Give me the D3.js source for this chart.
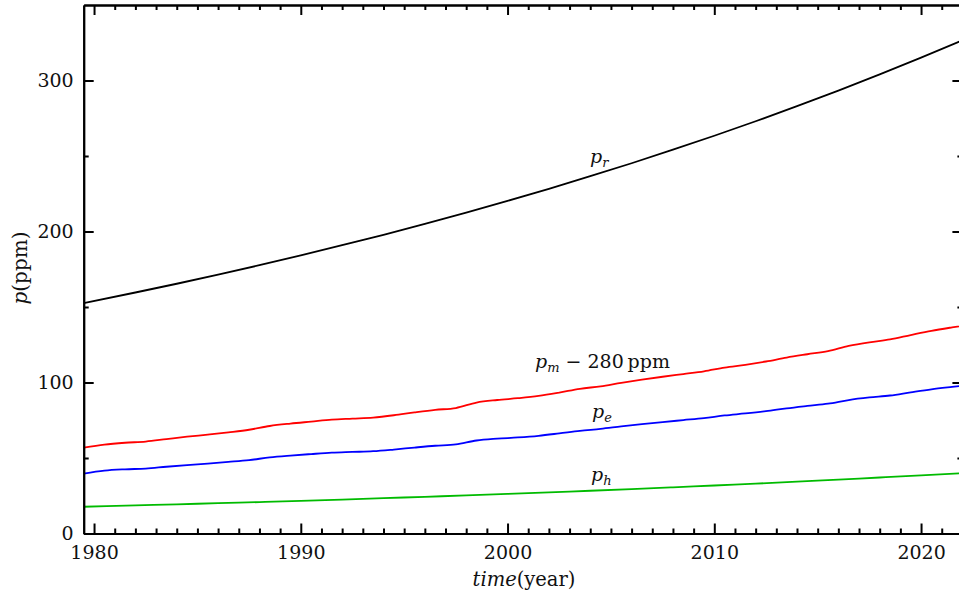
<!DOCTYPE html>
<html>
<head>
<meta charset="utf-8">
<script src="https://cdn.jsdelivr.net/npm/d3@7"></script>
<style>
  body { margin: 0; background: #fff; }
  svg { display: block; overflow: hidden; }
  svg text { font-family: "DejaVu Serif", serif !important; fill: #111; }
</style>
</head>
<body>
<script>
// values (ppm)
var yearsM = [1979.5, 1980.5, 1981.5, 1982.5, 1983.5, 1984.5, 1985.5, 1986.5, 1987.5, 1988.5,
              1989.5, 1990.5, 1991.5, 1992.5, 1993.5, 1994.5, 1995.5, 1996.5, 1997.5, 1998.5,
              1999.5, 2000.5, 2001.5, 2002.5, 2003.5, 2004.5, 2005.5, 2006.5, 2007.5, 2008.5,
              2009.5, 2010.5, 2011.5, 2012.5, 2013.5, 2014.5, 2015.5, 2016.5, 2017.5, 2018.5,
              2019.5, 2020.5, 2021.5, 2022.5];
var pm = [56.9, 58.9, 60.1, 60.9, 62.5, 64.1, 65.5, 67.0, 68.7, 71.2,
          72.8, 74.1, 75.4, 76.1, 76.8, 78.3, 80.2, 81.9, 83.1, 86.7,
          88.4, 89.6, 91.1, 93.3, 95.8, 97.5, 99.8, 101.9, 103.8, 105.6,
          107.4, 109.9, 111.7, 113.9, 116.5, 118.7, 120.8, 124.2, 126.6, 128.5,
          131.4, 134.2, 136.5, 138.6];
var pe = [39.6, 41.6, 42.5, 43.0, 44.2, 45.3, 46.3, 47.4, 48.6, 50.4,
          51.6, 52.6, 53.5, 54.0, 54.5, 55.6, 56.9, 58.1, 59.0, 61.6,
          62.8, 63.6, 64.7, 66.3, 68.0, 69.3, 70.9, 72.4, 73.8, 75.1,
          76.4, 78.2, 79.5, 81.0, 82.9, 84.5, 86.0, 88.4, 90.1, 91.4,
          93.5, 95.5, 97.1, 98.6];

var yearsS = [1979.5, 1982, 1984, 1986, 1988, 1990, 1992, 1994, 1996, 1998, 2000,
              2002, 2004, 2006, 2008, 2010, 2012, 2014, 2016, 2018, 2020, 2022];
var pr = [152.6, 159.6, 165.4, 171.4, 177.7, 184.2, 190.9, 197.8, 205.0, 212.5, 220.3,
          228.3, 236.6, 245.2, 254.2, 263.4, 273.0, 283.0, 293.3, 304.0, 315.1, 326.6];
var ph = [17.7, 18.6, 19.3, 20.1, 20.8, 21.6, 22.5, 23.4, 24.3, 25.2, 26.2,
          27.3, 28.3, 29.4, 30.6, 31.8, 33.0, 34.3, 35.7, 37.1, 38.5, 40.0];

var xTicks = [1980, 1990, 2000, 2010, 2020];
var yTicks = [0, 100, 200, 300];

var margin = {top: 5, right: 0, bottom: 65.5, left: 83.7},
    w = 878.7,
    h = 528.5;

var xScale = d3.scaleLinear().domain([1979.5, 2022]).range([0, w]);
var yScale = d3.scaleLinear().domain([0, 350]).range([h, 0]);

var xMinor = d3.range(1980, 2023).filter(function (d) { return d % 10 != 0; });
var yMinor = [50, 150, 250];

var svg = d3.select('body').append('svg')
    .attr('width', 959)
    .attr('height', 599)
  .append('g')
    .attr('transform', 'translate(' + margin.left + ',' + margin.top + ')');

svg.append('clipPath').attr('id', 'clip')
  .append('rect').attr('width', w).attr('height', h);

// curves
var curves = [
  {x: yearsS, y: pr, color: '#000000'},
  {x: yearsM, y: pm, color: '#ff0000'},
  {x: yearsM, y: pe, color: '#0000ff'},
  {x: yearsS, y: ph, color: '#00bb00'}
];

var line = d3.line()
    .x(function (d) { return xScale(d[0]); })
    .y(function (d) { return yScale(d[1]); })
    .curve(d3.curveMonotoneX);

svg.append('g').attr('clip-path', 'url(#clip)')
  .selectAll('path')
  .data(curves)
  .enter()
  .append('path')
  .attr('d', function (c) { return line(d3.zip(c.x, c.y)); })
  .attr('fill', 'none')
  .attr('stroke', function (c) { return c.color; })
  .attr('stroke-width', 1.8);

// axes: ticks point inward
function styleAxis(g) {
  g.attr('font-family', null);
  g.selectAll('path').attr('stroke', '#000').attr('stroke-width', 2);
  g.selectAll('line').attr('stroke', '#000').attr('stroke-width', 2);
  g.selectAll('text').attr('font-size', '19px').attr('fill', '#111');
}

svg.append('g')
  .attr('transform', 'translate(0,' + h + ')')
  .call(d3.axisBottom(xScale).tickValues(xTicks).tickFormat(d3.format('d'))
    .tickSizeInner(-10).tickSizeOuter(0).tickPadding(12))
  .call(styleAxis);
svg.append('g')
  .attr('transform', 'translate(0,' + h + ')')
  .call(d3.axisBottom(xScale).tickValues(xMinor).tickFormat('')
    .tickSizeInner(-5).tickSizeOuter(0))
  .call(styleAxis);

svg.append('g')
  .call(d3.axisTop(xScale).tickValues(xTicks).tickFormat('')
    .tickSizeInner(-10).tickSizeOuter(0))
  .call(styleAxis);
svg.append('g')
  .call(d3.axisTop(xScale).tickValues(xMinor).tickFormat('')
    .tickSizeInner(-5).tickSizeOuter(0))
  .call(styleAxis);

svg.append('g')
  .call(d3.axisLeft(yScale).tickValues(yTicks)
    .tickSizeInner(-10).tickSizeOuter(0).tickPadding(10))
  .call(styleAxis);
svg.append('g')
  .call(d3.axisLeft(yScale).tickValues(yMinor).tickFormat('')
    .tickSizeInner(-5).tickSizeOuter(0))
  .call(styleAxis);

svg.append('g')
  .attr('transform', 'translate(' + w + ',0)')
  .call(d3.axisRight(yScale).tickValues(yTicks).tickFormat('')
    .tickSizeInner(-10).tickSizeOuter(0))
  .call(styleAxis);
svg.append('g')
  .attr('transform', 'translate(' + w + ',0)')
  .call(d3.axisRight(yScale).tickValues(yMinor).tickFormat('')
    .tickSizeInner(-5).tickSizeOuter(0))
  .call(styleAxis);

// axis titles
var xt = svg.append('text')
  .attr('x', 524 - margin.left)
  .attr('y', 586 - margin.top)
  .attr('text-anchor', 'middle')
  .attr('font-size', '19.5px');
xt.append('tspan').attr('font-style', 'italic').text('time');
xt.append('tspan').text('(year)');

var yt = svg.append('text')
  .attr('transform', 'translate(' + (27 - margin.left) + ',' + (268 - margin.top) + ') rotate(-90)')
  .attr('text-anchor', 'middle')
  .attr('font-size', '20px');
yt.append('tspan').attr('font-style', 'italic').text('p');
yt.append('tspan').text('(ppm)');

// curve labels
function mathLabel(x, y, sub, rest) {
  var t = svg.append('text')
    .attr('x', x - margin.left)
    .attr('y', y - margin.top)
    .attr('font-size', '19px');
  t.append('tspan').attr('font-style', 'italic').text('p');
  t.append('tspan').attr('font-style', 'italic').attr('font-size', '13px').attr('dy', 4).text(sub);
  if (rest) {
    t.append('tspan').attr('dy', -4).text(rest);
  }
}

mathLabel(590, 163, 'r');
mathLabel(535, 367.5, 'm', ' \u2212 280\u2009ppm');
mathLabel(592, 418, 'e');
mathLabel(591, 481, 'h');
</script>
</body>
</html>
